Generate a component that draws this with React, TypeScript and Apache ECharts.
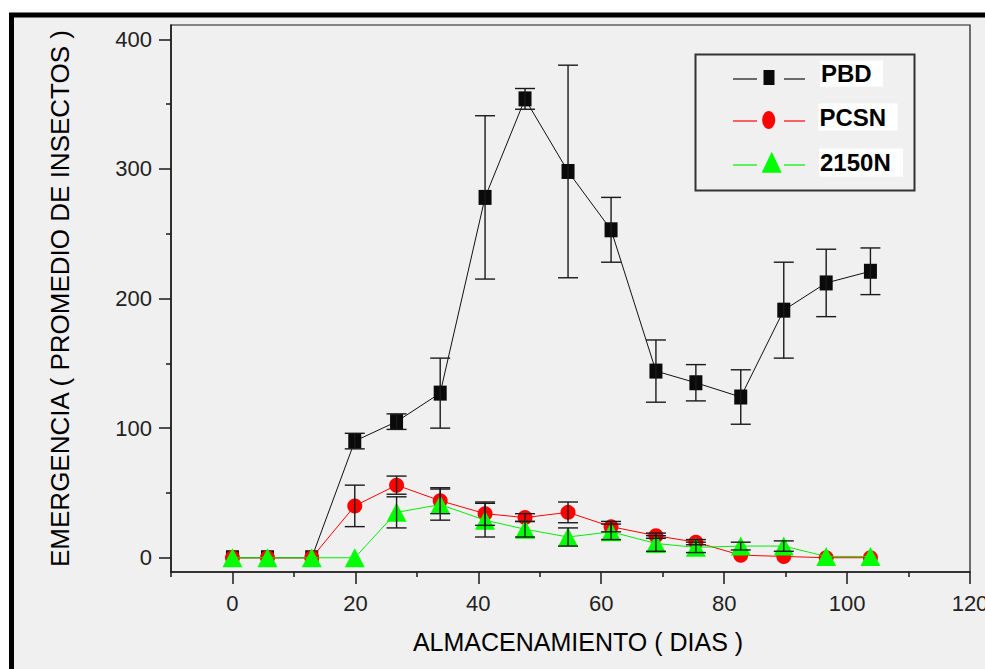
import { useEffect, useRef } from "react";
import * as echarts from "echarts";

// Storage days at which insects were counted
const days = [0, 5.7, 12.9, 19.9, 26.7, 33.8, 41.1, 47.6, 54.6, 61.6, 68.9, 75.4, 82.7, 89.7, 96.6, 103.8];

// Mean emergence per treatment and the half-width of its error bar
const pbd = [0, 0, 0, 90, 105, 127, 278, 354, 298, 253, 144, 135, 124, 191, 212, 221];
const pbdErr = [0, 0, 0, 6, 6, 27, 63, 8, 82, 25, 24, 14, 21, 37, 26, 18];
const pcsn = [0, 0, 0, 40, 56, 44, 34, 31, 35, 24, 17, 12, 2, 1, 0, 0];
const pcsnErr = [0, 0, 0, 16, 7, 10, 9, 3, 8, 4, 2, 2, 0, 0, 0, 0];
const n2150 = [0, 0, 0, 0, 35, 41, 29, 22, 16, 20, 11, 8, 9, 9, 1, 1];
const n2150Err = [0, 0, 0, 0, 12, 12, 13, 6, 7, 6, 6, 4, 3, 4, 0, 0];

// Axis ticks
const xMajor = [0, 20, 40, 60, 80, 100, 120];
const xMinor = [-10, 10, 30, 50, 70, 90, 110];
const yMajor = [0, 100, 200, 300, 400];
const yMinor = [50, 150, 250, 350];

const FONT = '"Liberation Sans", Arial, sans-serif';
const INK = "#1a1a1a";

function pairs(values: number[]) {
  return days.map((d, i) => [d, values[i]]);
}

function errorBars(name: string, values: number[], errs: number[], z: number) {
  return {
    type: "custom",
    name,
    z,
    silent: true,
    data: days.map((d, i) => [d, values[i], errs[i]]).filter((r) => r[2] > 0),
    encode: { x: 0, y: 1 },
    renderItem: (_params: any, api: any) => {
      const x = api.value(0);
      const y = api.value(1);
      const e = api.value(2);
      const top = api.coord([x, y + e]);
      const bot = api.coord([x, y - e]);
      const hw = 10;
      const style = { stroke: INK, lineWidth: 1.4 };
      return {
        type: "group",
        children: [
          { type: "line", shape: { x1: top[0], y1: top[1], x2: bot[0], y2: bot[1] }, style },
          { type: "line", shape: { x1: top[0] - hw, y1: top[1], x2: top[0] + hw, y2: top[1] }, style },
          { type: "line", shape: { x1: bot[0] - hw, y1: bot[1], x2: bot[0] + hw, y2: bot[1] }, style },
        ],
      };
    },
  };
}

function legendRow(
  lineY: number,
  color: string,
  marker: any,
  label: string,
  box: { x: number; y: number; w: number; h: number },
  textY: number
) {
  return [
    { type: "line", shape: { x1: 733, y1: lineY, x2: 757, y2: lineY }, style: { stroke: color, lineWidth: 1.2 }, z: 20 },
    { type: "line", shape: { x1: 784, y1: lineY, x2: 805, y2: lineY }, style: { stroke: color, lineWidth: 1.2 }, z: 20 },
    marker,
    { type: "rect", shape: { x: box.x, y: box.y, width: box.w, height: box.h }, style: { fill: "#ffffff" }, z: 20 },
    {
      type: "text",
      x: box.x + 1,
      y: textY,
      z: 21,
      style: {
        text: label,
        font: `bold 24px ${FONT}`,
        fill: "#000",
        verticalAlign: "middle",
        textVerticalAlign: "middle",
        align: "left",
        textAlign: "left",
      },
    },
  ];
}

const axisLineStyle = { color: INK, width: 1.5 };

const option: any = {
  animation: false,
  backgroundColor: "#ffffff",
  textStyle: { fontFamily: FONT },
  grid: {
    left: 171,
    right: 15,
    top: 25,
    bottom: 97,
    outerBoundsMode: "none",
    containLabel: false,
    show: true,
    backgroundColor: "#f0f0f0",
    borderColor: INK,
    borderWidth: 1.2,
  },
  xAxis: [
    {
      type: "value",
      min: -10,
      max: 120,
      position: "bottom",
      splitLine: { show: false },
      axisLine: { show: true, onZero: false, lineStyle: axisLineStyle },
      axisTick: { show: true, customValues: xMajor, length: 12, lineStyle: axisLineStyle },
      axisLabel: { customValues: xMajor, margin: 20, fontSize: 22, color: "#222", fontFamily: FONT },
      name: "ALMACENAMIENTO ( DIAS )",
      nameLocation: "middle",
      nameGap: 57,
      nameTextStyle: { fontSize: 25, color: "#000", fontFamily: FONT, padding: [0, 0, 0, 15] },
    },
    {
      type: "value",
      min: -10,
      max: 120,
      position: "bottom",
      offset: 0,
      splitLine: { show: false },
      axisLine: { show: false, onZero: false },
      axisTick: { show: true, customValues: xMinor, length: 5, lineStyle: axisLineStyle },
      axisLabel: { show: false },
    },
  ],
  yAxis: [
    {
      type: "value",
      min: -11,
      max: 411,
      position: "left",
      splitLine: { show: false },
      axisLine: { show: true, onZero: false, lineStyle: axisLineStyle },
      axisTick: { show: true, customValues: yMajor, length: 12, lineStyle: axisLineStyle },
      axisLabel: { customValues: yMajor, margin: 19, fontSize: 22, color: "#222", fontFamily: FONT },
      name: "EMERGENCIA ( PROMEDIO DE INSECTOS )",
      nameLocation: "middle",
      nameRotate: 90,
      nameGap: 98,
      nameTextStyle: { fontSize: 26, color: "#000", fontFamily: FONT },
    },
    {
      type: "value",
      min: -11,
      max: 411,
      position: "left",
      offset: 0,
      splitLine: { show: false },
      axisLine: { show: false, onZero: false },
      axisTick: { show: true, customValues: yMinor, length: 5, lineStyle: axisLineStyle },
      axisLabel: { show: false },
    },
  ],
  series: [
    {
      type: "line",
      name: "PBD",
      data: pairs(pbd),
      symbol: "rect",
      symbolSize: [13, 15],
      itemStyle: { color: "#0a0a0a" },
      lineStyle: { color: "#111", width: 1 },
      z: 2,
    },
    {
      type: "line",
      name: "PCSN",
      data: pairs(pcsn),
      symbol: "circle",
      symbolSize: 15,
      itemStyle: { color: "#ff0000" },
      lineStyle: { color: "#ff0000", width: 1 },
      z: 3,
    },
    {
      type: "line",
      name: "2150N",
      data: pairs(n2150),
      symbol: "triangle",
      symbolSize: [20, 19],
      itemStyle: { color: "#00ff00" },
      lineStyle: { color: "#00ee00", width: 1 },
      z: 4,
    },
    errorBars("PBD error", pbd, pbdErr, 5),
    errorBars("PCSN error", pcsn, pcsnErr, 5),
    errorBars("2150N error", n2150, n2150Err, 5),
  ],
  graphic: {
    elements: [
      // page frame
      {
        type: "rect",
        shape: { x: 11.5, y: 15, width: 1100, height: 800 },
        style: { fill: "#f0f0f0", stroke: "#000", lineWidth: 5 },
        z: -10,
        silent: true,
      },
      // key box
      {
        type: "rect",
        shape: { x: 695.5, y: 54.5, width: 219, height: 136 },
        style: { fill: "none", stroke: "#333", lineWidth: 2 },
        z: 20,
      },
      ...legendRow(
        79,
        "#111",
        { type: "rect", shape: { x: 763.5, y: 70, width: 11, height: 15 }, style: { fill: "#0a0a0a" }, z: 21 },
        "PBD",
        { x: 820, y: 60.5, w: 63, h: 26 },
        73.8
      ),
      ...legendRow(
        121,
        "#ff0000",
        { type: "ellipse", shape: { cx: 768.7, cy: 120, rx: 6.5, ry: 9 }, style: { fill: "#ff0000" }, z: 21 },
        "PCSN",
        { x: 818.5, y: 103.5, w: 79, h: 27 },
        117
      ),
      ...legendRow(
        165,
        "#00ee00",
        {
          type: "polygon",
          shape: { points: [[761.7, 172.7], [771.7, 151.7], [781.7, 172.7]] },
          style: { fill: "#00ff00" },
          z: 21,
        },
        "2150N",
        { x: 819, y: 148.5, w: 84, h: 28 },
        162.5
      ),
    ],
  },
};

export default function App() {
  const ref = useRef<HTMLDivElement>(null);
  useEffect(() => {
    const chart = echarts.init(ref.current!, undefined, { renderer: "svg" });
    chart.setOption(option);
    return () => chart.dispose();
  }, []);
  return (
    <div
      ref={ref}
      style={{ position: "fixed", left: 0, top: 0, width: 985, height: 669 }}
    />
  );
}
